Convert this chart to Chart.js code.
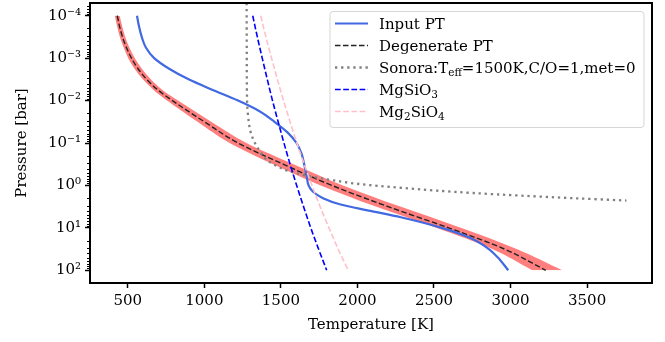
<!DOCTYPE html>
<html>
<head>
<meta charset="utf-8">
<script src="https://cdn.jsdelivr.net/npm/chart.js@4.4.1/dist/chart.umd.min.js"></script>
<style>
html, body { margin: 0; padding: 0; background: #fff; }
#wrap { width: 665px; height: 342px; }
</style>
</head>
<body>
<div id="wrap"><canvas id="ptChart" width="665" height="342"></canvas></div>
<script>
// pressure [bar] and temperature [K]
var inputP = [1e-4, 1.78e-4, 3.16e-4, 5.62e-4, 1e-3, 1.78e-3, 3.16e-3, 5.62e-3, 1e-2, 1.78e-2, 3.16e-2, 5.62e-2,
    0.1, 0.178, 0.316, 0.562, 1, 1.41, 2.0, 2.82, 3.98, 5.62, 10, 17.8, 31.6, 56.2, 100];
var inputT = [560, 573, 591, 618, 672, 770, 897, 1055, 1220, 1360, 1458, 1543,
    1602, 1635, 1652, 1667, 1681, 1710, 1775, 1890, 2085, 2283, 2550, 2745, 2858, 2930, 2985];

var degP = [1e-4, 1.78e-4, 3.16e-4, 5.62e-4, 1e-3, 1.78e-3, 3.16e-3, 5.62e-3, 1e-2, 3.16e-2, 0.1, 0.316, 1, 3.16, 10, 31.6, 100];
var degT = [431, 446, 465, 491, 524, 567, 623, 696, 791, 1000, 1220, 1515, 1833, 2200, 2595, 2960, 3230];
var degLo = [415, 430, 448, 473, 503, 544, 598, 668, 756, 955, 1165, 1448, 1760, 2120, 2515, 2880, 3142];
var degHi = [447, 463, 483, 510, 546, 592, 650, 726, 828, 1045, 1275, 1582, 1905, 2280, 2675, 3040, 3338];

var sonoraP = [5.0e-5, 1e-3, 1e-2, 3.16e-2, 5.62e-2, 0.1, 0.158, 0.224, 0.316, 0.447, 0.589, 0.759, 0.912, 1.15, 1.51, 2.0, 2.27];
var sonoraT = [1276, 1277, 1279, 1290, 1303, 1330, 1364, 1394, 1450, 1543, 1670, 1843, 1996, 2297, 2755, 3410, 3757];

var condP = [1e-4, 3.16e-4, 1e-3, 3.16e-3, 1e-2, 3.16e-2, 0.1, 0.316, 1, 3.16, 10, 31.6, 100];
var mgsio3T = [1316, 1346, 1378, 1411, 1445, 1482, 1520, 1560, 1603, 1648, 1695, 1746, 1799];
var mg2sio4T = [1368, 1402, 1439, 1477, 1517, 1560, 1604, 1652, 1703, 1756, 1814, 1874, 1940];

var xTicks = [500, 1000, 1500, 2000, 2500, 3000, 3500];
var yTicks = [1e-4, 1e-3, 1e-2, 1e-1, 1, 10, 100];

var serif = "'DejaVu Serif', 'Liberation Serif', serif";

function pts(t, p) {
    return t.map(function(v, i) { return { x: v, y: p[i] }; });
}

var supMap = { "-": "\u207b", "0": "\u2070", "1": "\u00b9", "2": "\u00b2", "3": "\u00b3",
    "4": "\u2074", "5": "\u2075", "6": "\u2076", "7": "\u2077", "8": "\u2078", "9": "\u2079" };

// legend rows: text pieces, sub = subscript
var legendRows = [
    { ds: 0, parts: [{ t: "Input PT" }] },
    { ds: 1, parts: [{ t: "Degenerate PT" }] },
    { ds: 2, parts: [{ t: "Sonora:T" }, { t: "eff", sub: true }, { t: "=1500K,C/O=1,met=0" }] },
    { ds: 3, parts: [{ t: "MgSiO" }, { t: "3", sub: true }] },
    { ds: 4, parts: [{ t: "Mg" }, { t: "2", sub: true }, { t: "SiO" }, { t: "4", sub: true }] },
];

var minorTicks = {
    id: "minorTicks",
    afterDraw: function(chart) {
        var ys = chart.scales.y, ctx = chart.ctx, left = chart.chartArea.left;
        ctx.save();
        ctx.strokeStyle = "#000";
        ctx.lineWidth = 1;
        for (var e = -5; e <= 2; e++) {
            for (var k = 2; k < 10; k++) {
                var v = k * Math.pow(10, e);
                if (v < ys.min || v > ys.max) continue;
                var py = Math.round(ys.getPixelForValue(v)) + 0.5;
                ctx.beginPath();
                ctx.moveTo(left - 3, py);
                ctx.lineTo(left, py);
                ctx.stroke();
            }
        }
        ctx.restore();
    },
};

var frame = {
    id: "frame",
    afterDraw: function(chart) {
        var a = chart.chartArea, ctx = chart.ctx;
        ctx.save();
        ctx.strokeStyle = "#000";
        ctx.lineWidth = 2;
        ctx.strokeRect(a.left, a.top, a.right - a.left, a.bottom - a.top);
        ctx.restore();
    },
};

var richLegend = {
    id: "richLegend",
    afterDraw: function(chart) {
        var ctx = chart.ctx;
        var bx = 330, by = 11.5, bw = 314, bh = 116, r = 3;
        ctx.save();
        ctx.beginPath();
        ctx.moveTo(bx + r, by);
        ctx.arcTo(bx + bw, by, bx + bw, by + bh, r);
        ctx.arcTo(bx + bw, by + bh, bx, by + bh, r);
        ctx.arcTo(bx, by + bh, bx, by, r);
        ctx.arcTo(bx, by, bx + bw, by, r);
        ctx.closePath();
        ctx.fillStyle = "rgba(255,255,255,0.8)";
        ctx.fill();
        ctx.strokeStyle = "rgba(204,204,204,0.8)";
        ctx.lineWidth = 1;
        ctx.stroke();

        legendRows.forEach(function(row, i) {
            var ds = chart.data.datasets[row.ds];
            var cy = 23.5 + i * 22;
            ctx.save();
            ctx.strokeStyle = ds.borderColor;
            ctx.lineWidth = ds.borderWidth;
            ctx.setLineDash(ds.borderDash || []);
            ctx.beginPath();
            ctx.moveTo(335, cy);
            ctx.lineTo(368, cy);
            ctx.stroke();
            ctx.restore();

            var x = 379, base = cy + 5.5;
            ctx.fillStyle = "#000";
            ctx.textBaseline = "alphabetic";
            row.parts.forEach(function(p) {
                ctx.font = (p.sub ? "10.5px " : "15px ") + serif;
                ctx.fillText(p.t, x, p.sub ? base + 3 : base);
                x += ctx.measureText(p.t).width;
            });
        });
        ctx.restore();
    },
};

var ctx = document.getElementById("ptChart");
var ptChart = new Chart(ctx, {
    type: "line",
    data: {
        datasets: [{
                label: "Input PT",
                data: pts(inputT, inputP),
                borderColor: "#4169e1",
                borderWidth: 2.2,
                order: 5,
            },
            {
                label: "Degenerate PT",
                data: pts(degT, degP),
                borderColor: "#222222",
                borderWidth: 1.4,
                borderDash: [5.5, 2.5],
                order: 6,
            },
            {
                label: "Sonora",
                data: pts(sonoraT, sonoraP),
                borderColor: "#808080",
                borderWidth: 2.3,
                borderDash: [2.3, 3.8],
                order: 4,
            },
            {
                label: "MgSiO3",
                data: pts(mgsio3T, condP),
                borderColor: "#0000ff",
                borderWidth: 1.6,
                borderDash: [5.7, 2.5],
                order: 3,
            },
            {
                label: "Mg2SiO4",
                data: pts(mg2sio4T, condP),
                borderColor: "#ffc0cb",
                borderWidth: 1.6,
                borderDash: [5.7, 2.5],
                order: 2,
            },
            {
                label: "band low",
                data: pts(degLo, degP),
                borderWidth: 0,
                borderColor: "rgba(0,0,0,0)",
                fill: false,
                order: 10,
            },
            {
                label: "band high",
                data: pts(degHi, degP),
                borderWidth: 0,
                borderColor: "rgba(0,0,0,0)",
                backgroundColor: "rgba(255,0,0,0.5)",
                fill: "-1",
                order: 9,
            },
        ],
    },
    options: {
        responsive: false,
        devicePixelRatio: 1,
        animation: false,
        // curves are monotonic in pressure, so interpolate along y
        indexAxis: "y",
        layout: { padding: { left: 0, right: 13, top: 3, bottom: 0 } },
        elements: {
            point: { radius: 0, hoverRadius: 0 },
            line: { cubicInterpolationMode: "monotone", fill: false, borderCapStyle: "butt" },
        },
        plugins: {
            legend: { display: false },
            tooltip: { enabled: false },
        },
        scales: {
            x: {
                type: "linear",
                min: 253,
                max: 3924,
                afterBuildTicks: function(s) {
                    s.ticks = xTicks.map(function(v) { return { value: v }; });
                },
                afterFit: function(s) {
                    s.height = 59;
                    s.paddingLeft = 0;
                    s.paddingRight = 0;
                },
                ticks: {
                    font: { family: serif, size: 15 },
                    color: "#000",
                    padding: 4.5,
                    maxRotation: 0,
                    autoSkip: false,
                    callback: function(v) { return String(v); },
                },
                grid: { drawOnChartArea: false, tickLength: 5, tickWidth: 1.5, tickColor: "#000" },
                border: { display: false },
                title: {
                    display: true,
                    text: "Temperature [K]",
                    color: "#000",
                    font: { family: serif, size: 15 },
                    padding: { top: 0, bottom: 8 },
                },
            },
            y: {
                type: "logarithmic",
                reverse: true,
                min: 5.012e-5,
                max: 199.5,
                afterBuildTicks: function(s) {
                    s.ticks = yTicks.map(function(v) { return { value: v }; });
                },
                afterFit: function(s) {
                    s.width = 90;
                    s.paddingTop = 0;
                    s.paddingBottom = 0;
                },
                ticks: {
                    font: { family: serif, size: 15 },
                    color: "#000",
                    padding: 4,
                    autoSkip: false,
                    callback: function(v) {
                        var e = String(Math.round(Math.log10(v)));
                        return "10" + e.split("").map(function(c) { return supMap[c]; }).join("");
                    },
                },
                grid: { drawOnChartArea: false, tickLength: 5, tickWidth: 1.5, tickColor: "#000" },
                border: { display: false },
                title: {
                    display: true,
                    text: "Pressure [bar]",
                    color: "#000",
                    font: { family: serif, size: 15 },
                    padding: { top: 13, bottom: 0 },
                },
            },
        },
    },
    plugins: [minorTicks, frame, richLegend],
});
</script>
</body>
</html>
